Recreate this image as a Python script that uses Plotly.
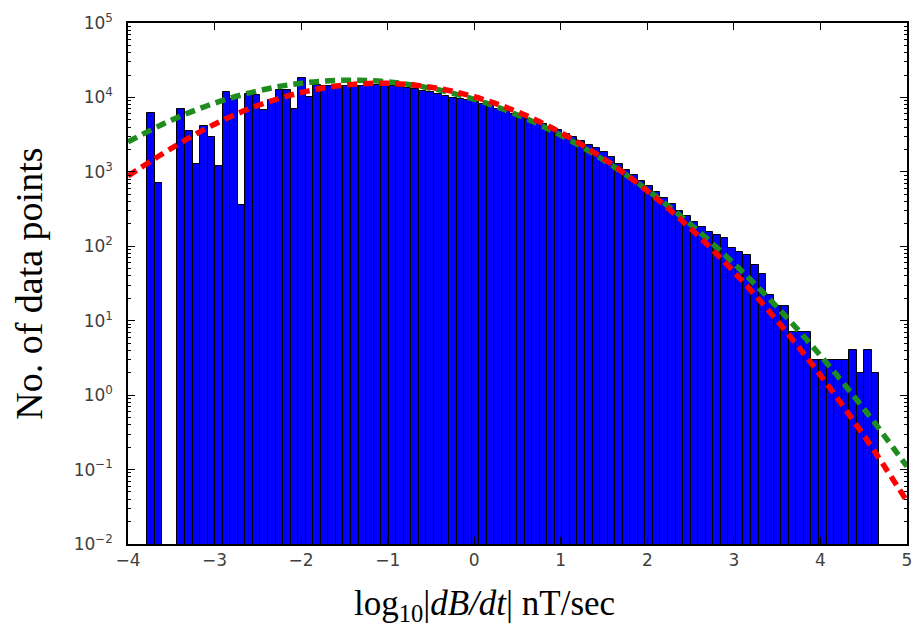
import numpy as np
import plotly.graph_objects as go

# ---------------- data ----------------
bin_left = -3.778
bin_width = 0.0872
counts = [
    6270, 711, 0, 0, 6950, 3520, 1270, 4100, 2950, 1190,
    11860, 9460, 357, 11270, 10940, 6730, 9160, 12770, 12500, 7100,
    18270, 10000, 14900, 14360, 14130, 14130, 14220, 14310, 14400, 14480,
    14580, 14450, 14060, 13620, 13300, 12800, 12270, 11940, 11220, 10550,
    9910, 9580, 9170, 8750, 8220, 7620, 7050, 6530, 6040, 5510,
    5100, 4800, 4370, 3980, 3630, 3260, 2920, 2620, 2320, 2080,
    1870, 1575, 1290, 1070, 904, 763, 643, 537, 451, 374,
    301, 254, 215, 184, 155, 141, 129, 95, 84, 76,
    56, 42, 22, 16, 16, 7, 7, 7, 3, 3,
    3, 3, 3, 4, 2, 4, 2,
]

fit_x = [-4.0, -3.5, -3.0, -2.5, -2.0, -1.5, -1.0, -0.5, 0.0, 0.5,
         1.0, 1.5, 2.0, 2.5, 3.0, 3.5, 4.0, 4.5, 5.0]
fit_green = [2530, 4940, 8370, 12250, 15520, 17030, 16180, 13280, 9440, 5820,
             3100, 1430, 569, 197, 58.7, 15.2, 3.40, 0.659, 0.110]
fit_red = [880, 2065, 4370, 7790, 11640, 14620, 15450, 13700, 10210, 6390,
           3360, 1490, 553, 173, 45.3, 9.98, 1.85, 0.288, 0.0376]

x_ticks = [-4, -3, -2, -1, 0, 1, 2, 3, 4, 5]
y_exps = [-2, -1, 0, 1, 2, 3, 4, 5]

x_title = "log<sub>10</sub>|<i>dB/dt</i>| nT/sec"
y_title = "No. of data points"

# ---------------- figure ----------------
centers = bin_left + bin_width * (np.arange(len(counts)) + 0.5)
bar_y = [c if c > 0 else None for c in counts]

fig = go.Figure()
fig.add_trace(go.Bar(
    x=centers, y=bar_y, width=bin_width,
    marker=dict(color="#0000FF", line=dict(color="black", width=1)),
    showlegend=False,
))
fig.add_trace(go.Scatter(
    x=fit_x, y=fit_green, mode="lines", line_shape="spline",
    line=dict(color="#1E8C1E", width=5.5, dash="10px,6px"),
    showlegend=False,
))
fig.add_trace(go.Scatter(
    x=fit_x, y=fit_red, mode="lines", line_shape="spline",
    line=dict(color="#FF0000", width=5.5, dash="10px,6px"),
    showlegend=False,
))

minor_vals = [m * 10.0 ** e for e in range(-2, 5) for m in range(2, 10)]

tick_font = dict(family="DejaVu Sans, Arial, sans-serif", size=17, color="#404040")
serif = "Liberation Serif, Times New Roman, serif"

fig.update_layout(
    width=919, height=627,
    margin=dict(l=128, r=7, t=23, b=83),
    paper_bgcolor="white", plot_bgcolor="white",
    bargap=0,
    xaxis=dict(
        range=[-4, 5],
        tickmode="array", tickvals=x_ticks,
        ticktext=[("\u2212" + str(-v)) if v < 0 else str(v) for v in x_ticks],
        ticks="inside", ticklen=7, tickwidth=1, tickcolor="black",
        showline=True, linecolor="black", linewidth=1.5, mirror="ticks",
        showgrid=False, zeroline=False,
        tickfont=tick_font,
    ),
    yaxis=dict(
        type="log", range=[-2, 5],
        tickmode="array", tickvals=[10.0 ** e for e in y_exps],
        ticktext=["10<sup>" + ("\u2212" + str(-e) if e < 0 else str(e)) + "</sup>" for e in y_exps],
        ticks="inside", ticklen=7, tickwidth=1, tickcolor="black",
        minor=dict(tickmode="array", tickvals=minor_vals, ticks="inside",
                   ticklen=3, tickwidth=1, tickcolor="black", showgrid=False),
        showline=True, linecolor="black", linewidth=1.5, mirror="allticks",
        showgrid=False, zeroline=False,
        tickfont=tick_font,
        ticklabelstandoff=10,
    ),
    annotations=[
        dict(text=x_title, xref="paper", yref="paper", x=0.457, y=-0.118,
             xanchor="center", yanchor="middle", showarrow=False,
             font=dict(family=serif, size=35, color="black")),
        dict(text=y_title, xref="paper", yref="paper", x=-0.128, y=0.50,
             xanchor="center", yanchor="middle", showarrow=False, textangle=-90,
             font=dict(family=serif, size=38, color="black")),
    ],
)

fig.write_html("out.html")
